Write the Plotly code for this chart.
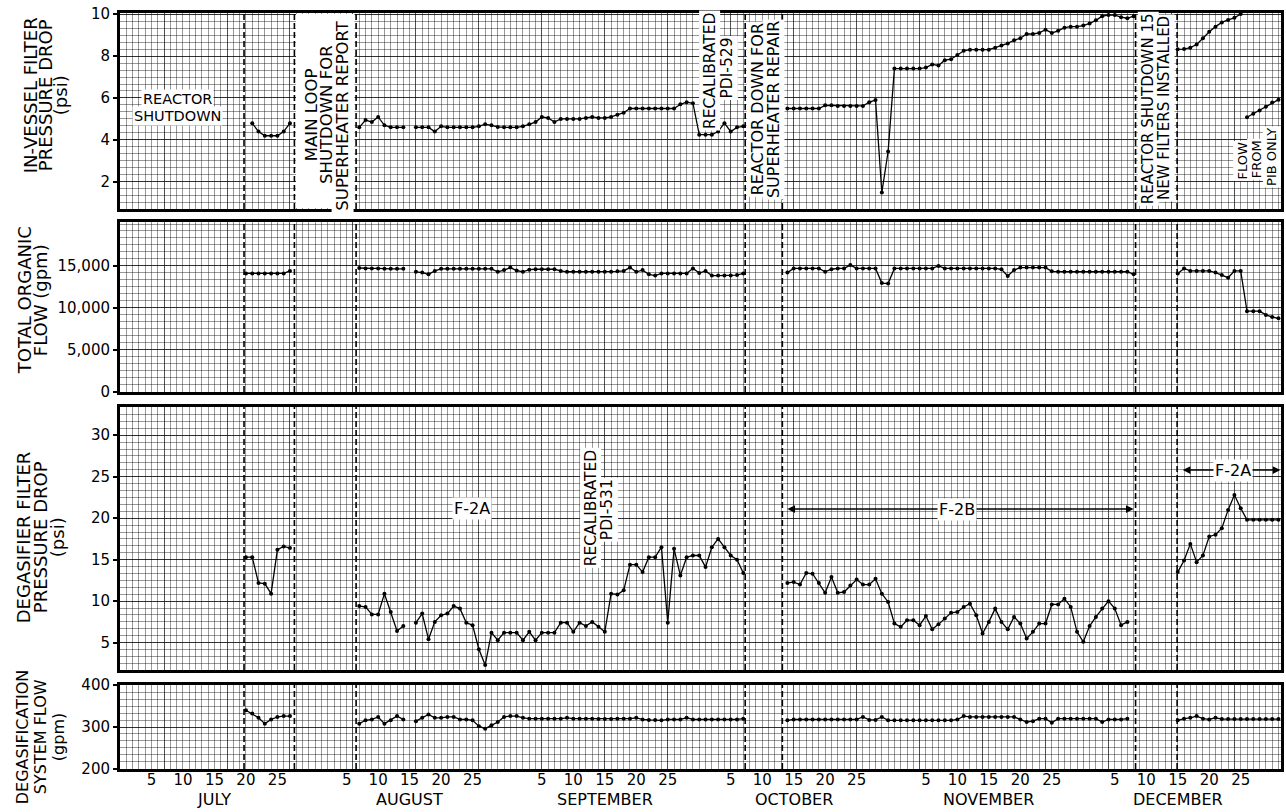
import plotly.graph_objects as go

FONT = "DejaVu Sans"

# ---------------- time axis: day number, 1 = July 1 ... 184 = December 31 ----------------
MONTHS = ["JULY", "AUGUST", "SEPTEMBER", "OCTOBER", "NOVEMBER", "DECEMBER"]
MONTH_OFFSETS = [0, 31, 62, 92, 123, 153]
DAY_TICKS = [5, 10, 15, 20, 25]
X_RANGE = [0, 184.4]

# dashed event lines (day numbers)
EVENT_DAYS = [19.7, 27.7, 37.5, 99.3, 105.2, 161.3, 167.9]

# ---------------- data: (first day, daily readings) segments ----------------
IVF_SEGMENTS = [  # in-vessel filter pressure drop (psi)
    (21, [4.8, 4.4, 4.2, 4.2, 4.2, 4.4, 4.8]),
    (38, [4.6, 4.95, 4.85, 5.1, 4.7, 4.6, 4.6, 4.6]),
    (47, [4.6, 4.6, 4.6, 4.4, 4.65, 4.6, 4.6, 4.6, 4.6, 4.6, 4.65, 4.75, 4.7, 4.62,
          4.6, 4.6, 4.6, 4.65, 4.75, 4.85, 5.1, 5.05, 4.85, 5.0, 5.0, 5.0, 5.0, 5.05,
          5.1, 5.05, 5.05, 5.1, 5.2, 5.3, 5.5, 5.5, 5.5, 5.5, 5.5, 5.5, 5.5, 5.5,
          5.7, 5.8, 5.75, 4.25, 4.25, 4.25, 4.4, 4.8, 4.4, 4.6, 4.65]),
    (106, [5.5, 5.5, 5.5, 5.5, 5.5, 5.5, 5.65, 5.65, 5.62, 5.62, 5.62, 5.62, 5.62,
           5.8, 5.9, 1.5, 3.45, 7.4, 7.4, 7.4, 7.4, 7.4, 7.45, 7.6, 7.55, 7.8, 7.85,
           8.05, 8.25, 8.3, 8.3, 8.3, 8.3, 8.4, 8.5, 8.6, 8.75, 8.85, 9.05, 9.05,
           9.1, 9.25, 9.1, 9.2, 9.35, 9.4, 9.4, 9.45, 9.55, 9.7, 9.9, 9.95, 9.95,
           9.85, 9.8, 9.9]),
    (168, [8.32, 8.33, 8.4, 8.55, 8.85, 9.16, 9.4, 9.6, 9.72, 9.82, 10.0]),
    (179, [5.08, 5.25, 5.4, 5.58, 5.78, 5.92]),
]

TOF_SEGMENTS = [  # total organic flow (gpm)
    (20, [14100, 14100, 14100, 14100, 14100, 14100, 14100, 14400]),
    (38, [14750, 14700, 14700, 14700, 14650, 14650, 14650, 14650]),
    (47, [14300, 14200, 14000, 14400, 14650, 14650, 14650, 14650, 14650, 14650,
          14650, 14650, 14650, 14300, 14500, 14800, 14450, 14300, 14550, 14600,
          14600, 14600, 14600, 14400, 14300, 14300, 14300, 14300, 14300, 14300,
          14300, 14300, 14350, 14400, 14800, 14300, 14500, 14000, 13850, 14100,
          14100, 14100, 14100, 14100, 14700, 14150, 14400, 13850, 13850, 13850,
          13850, 13900, 14100]),
    (106, [14200, 14700, 14700, 14700, 14700, 14700, 14300, 14600, 14700, 14700,
           15100, 14700, 14700, 14700, 14700, 12950, 12900, 14700, 14700, 14700,
           14700, 14700, 14700, 14700, 15000, 14700, 14700, 14700, 14700, 14700,
           14700, 14700, 14700, 14700, 14600, 13800, 14500, 14800, 14800, 14800,
           14800, 14800, 14350, 14300, 14300, 14300, 14300, 14300, 14300, 14300,
           14300, 14300, 14300, 14300, 14300, 14000]),
    (168, [14100, 14700, 14400, 14400, 14400, 14400, 14200, 13900, 13600, 14400,
           14400, 9600, 9600, 9600, 9150, 8900, 8750]),
]

DFP_SEGMENTS = [  # degasifier filter pressure drop (psi)
    (20, [15.3, 15.3, 12.2, 12.1, 10.9, 16.2, 16.6, 16.4]),
    (38, [9.4, 9.3, 8.4, 8.4, 10.9, 8.7, 6.4, 7.0]),
    (47, [7.4, 8.5, 5.4, 7.5, 8.3, 8.5, 9.4, 9.1, 7.4, 7.1, 4.2, 2.3, 6.2, 5.3,
          6.2, 6.2, 6.2, 5.3, 6.3, 5.3, 6.2, 6.2, 6.2, 7.4, 7.4, 6.3, 7.4, 7.0,
          7.5, 6.9, 6.3, 10.9, 10.8, 11.3, 14.4, 14.4, 13.5, 15.3, 15.3, 16.5,
          7.4, 16.3, 13.1, 15.3, 15.5, 15.5, 14.1, 16.5, 17.5, 16.5, 15.5, 15.0,
          13.4]),
    (106, [12.2, 12.3, 12.0, 13.4, 13.3, 12.2, 11.0, 12.9, 11.0, 11.1, 11.9, 12.6,
           12.0, 12.0, 12.7, 10.9, 9.9, 7.3, 6.9, 7.7, 7.7, 7.1, 8.2, 6.6, 7.2,
           7.9, 8.6, 8.7, 9.3, 9.7, 8.3, 6.1, 7.5, 9.1, 7.5, 6.6, 8.1, 7.3, 5.5,
           6.3, 7.3, 7.3, 9.6, 9.6, 10.3, 9.3, 6.3, 5.1, 7.0, 8.1, 9.1, 10.0, 9.1,
           7.1, 7.5]),
    (168, [13.5, 14.9, 16.9, 14.7, 15.5, 17.8, 18.0, 18.8, 21.0, 22.8, 21.2, 19.8,
           19.8, 19.8, 19.8, 19.8, 19.8]),
]

DSF_SEGMENTS = [  # degasification system flow (gpm)
    (20, [340, 332, 322, 308, 318, 324, 326, 326]),
    (38, [308, 316, 318, 324, 308, 316, 326, 318]),
    (47, [314, 322, 330, 322, 322, 324, 324, 318, 318, 316, 302, 296, 304, 312,
          324, 326, 326, 322, 320, 320, 320, 320, 320, 320, 322, 320, 320, 320,
          320, 319, 319, 319, 320, 320, 320, 322, 318, 317, 317, 316, 318, 318,
          318, 322, 318, 318, 318, 318, 318, 318, 318, 318, 320]),
    (106, [316, 318, 318, 318, 318, 318, 318, 318, 318, 318, 318, 318, 324, 317,
           317, 324, 316, 316, 316, 316, 316, 316, 316, 316, 316, 316, 316, 318,
           326, 324, 324, 324, 324, 324, 324, 324, 324, 318, 312, 314, 320, 320,
           310, 320, 320, 320, 320, 320, 320, 320, 312, 318, 318, 318, 320]),
    (168, [316, 320, 322, 326, 320, 318, 322, 319, 319, 319, 319, 319, 319, 319,
           319, 319, 319]),
]

# axis labels
IVF_TICKS = [2, 4, 6, 8, 10]
TOF_TICKS = [0, 5000, 10000, 15000]
TOF_TICKTEXT = ["0", "5,000", "10,000", "15,000"]
DFP_TICKS = [5, 10, 15, 20, 25, 30]
DSF_TICKS = [200, 300, 400]

# ---------------- layout geometry (pixels) ----------------
W, H = 1286, 812
ML, MR, MT, MB = 120, 2, 13, 43
PW, PH = W - ML - MR, H - MT - MB


def pxx(px):
    return (px - ML) / PW


def pxy(py):
    return (H - MB - py) / PH


def build(segments):
    xs, ys = [], []
    for start, vals in segments:
        if xs:
            xs.append(None)
            ys.append(None)
        xs.extend(range(start, start + len(vals)))
        ys.extend(vals)
    return xs, ys


MAJ = "rgba(0,0,0,0.68)"
MIN = "rgba(0,0,0,0.5)"

fig = go.Figure()
panels = [(IVF_SEGMENTS, "x", "y"), (TOF_SEGMENTS, "x2", "y2"),
          (DFP_SEGMENTS, "x3", "y3"), (DSF_SEGMENTS, "x4", "y4")]
for segs, xa, ya in panels:
    xs, ys = build(segs)
    fig.add_trace(go.Scatter(x=xs, y=ys, xaxis=xa, yaxis=ya, mode="lines+markers",
                             line=dict(color="black", width=1.3),
                             marker=dict(color="black", size=4),
                             connectgaps=False, hoverinfo="skip", showlegend=False))
# carrier trace for the date-label axis
fig.add_trace(go.Scatter(x=[1, 184], y=[300, 300], xaxis="x5", yaxis="y4", mode="markers",
                         marker=dict(size=1, opacity=0), hoverinfo="skip", showlegend=False))


def xax(anchor):
    return dict(range=X_RANGE, anchor=anchor, showticklabels=False, ticks="",
                tickmode="linear", tick0=7, dtick=10, showgrid=True, gridcolor=MAJ, gridwidth=1.0,
                minor=dict(tickmode="linear", tick0=0, dtick=1, showgrid=True,
                           gridcolor=MIN, gridwidth=0.8),
                showline=True, mirror=True, linecolor="black", linewidth=3, zeroline=False)


def yax(domain, rng, tickvals, ticktext, minor_dtick, anchor):
    return dict(domain=domain, range=rng, anchor=anchor, tickmode="array",
                tickvals=tickvals, ticktext=ticktext, ticks="outside", ticklen=4,
                tickwidth=2, tickcolor="black",
                tickfont=dict(size=15, family=FONT, color="black"),
                showgrid=True, gridcolor=MAJ, gridwidth=1.0,
                minor=dict(tickmode="linear", tick0=0, dtick=minor_dtick, showgrid=True,
                           gridcolor=MIN, gridwidth=0.8),
                showline=True, mirror=True, linecolor="black", linewidth=3, zeroline=False)


day_tickvals = [off + d for off in MONTH_OFFSETS for d in DAY_TICKS]
day_ticktext = [str(d) for off in MONTH_OFFSETS for d in DAY_TICKS]

fig.update_layout(
    width=W, height=H, margin=dict(l=ML, r=MR, t=MT, b=MB),
    paper_bgcolor="white", plot_bgcolor="white", showlegend=False,
    font=dict(family=FONT, color="black"),
    xaxis=xax("y"), xaxis2=xax("y2"), xaxis3=xax("y3"), xaxis4=xax("y4"),
    xaxis5=dict(overlaying="x4", anchor="y4", side="bottom", range=X_RANGE,
                tickmode="array", tickvals=day_tickvals, ticktext=day_ticktext,
                ticks="", showgrid=False, showline=False, zeroline=False,
                tickfont=dict(size=15, family=FONT, color="black")),
    yaxis=yax([pxy(209), pxy(13)], [0.71, 10.05], IVF_TICKS, [str(v) for v in IVF_TICKS], 1 / 3, "x"),
    yaxis2=yax([pxy(392), pxy(222)], [-50, 20240], TOF_TICKS, TOF_TICKTEXT, 5000 / 6, "x2"),
    yaxis3=yax([pxy(670), pxy(407)], [1.7, 33.4], DFP_TICKS, [str(v) for v in DFP_TICKS], 5 / 6, "x3"),
    yaxis4=yax([pxy(769), pxy(685)], [199.7, 400.3], DSF_TICKS, [str(v) for v in DSF_TICKS], 100 / 6, "x4"),
)

shapes = []
# blank area for the main-loop shutdown note
shapes.append(dict(type="rect", xref="x", yref="y domain", x0=27.95, x1=37.25, y0=0.005, y1=0.995,
                   fillcolor="white", line=dict(width=0), layer="above"))
for xa, ya in [("x", "y"), ("x2", "y2"), ("x3", "y3"), ("x4", "y4")]:
    for d in EVENT_DAYS:
        shapes.append(dict(type="line", xref=xa, yref=ya + " domain", x0=d, x1=d, y0=0, y1=1,
                           line=dict(color="black", width=1.6, dash="6px,3px"), layer="above"))
fig.update_layout(shapes=shapes)

ann = []

# axis titles, one annotation per line
TITLES = [
    (["IN-VESSEL FILTER", "PRESSURE DROP", "(psi)"], [30, 45, 60], 95, 18),
    (["TOTAL ORGANIC", "FLOW (gpm)"], [24, 40], 300, 18),
    (["DEGASIFIER FILTER", "PRESSURE DROP", "(psi)"], [23, 40, 57], 537, 18),
    (["DEGASIFICATION", "SYSTEM FLOW", "(gpm)"], [22, 40, 58], 737, 16),
]
for lines, xs_px, y_px, fs in TITLES:
    for text, x_px in zip(lines, xs_px):
        ann.append(dict(text=text, xref="paper", yref="paper", x=pxx(x_px), y=pxy(y_px),
                        textangle=-90, showarrow=False, xanchor="center", yanchor="middle",
                        font=dict(size=fs, family=FONT, color="black")))

# month names
for off, name in zip(MONTH_OFFSETS, MONTHS):
    ann.append(dict(text=name, xref="x4", yref="paper", x=off + 15, y=pxy(799),
                    showarrow=False, xanchor="center", yanchor="middle",
                    font=dict(size=16, family=FONT, color="black")))


def note(lines, days, vals, xa, ya, size=14, angle=-90):
    # white boxes first, then the lettering, so that neighbouring lines do not hide each other
    for text, d, v in zip(lines, days, vals):
        ann.append(dict(text=text, xref=xa, yref=ya, x=d, y=v, textangle=angle,
                        showarrow=False, xanchor="center", yanchor="middle",
                        bgcolor="white", borderpad=1,
                        font=dict(size=size, family=FONT, color="rgba(0,0,0,0)")))
    for text, d, v in zip(lines, days, vals):
        ann.append(dict(text=text, xref=xa, yref=ya, x=d, y=v, textangle=angle,
                        showarrow=False, xanchor="center", yanchor="middle",
                        font=dict(size=size, family=FONT, color="black")))


note(["REACTOR", "SHUTDOWN"], [9.15, 9.15], [5.95, 5.15], "x", "y", size=14.5, angle=0)
note(["MAIN LOOP", "SHUTDOWN FOR", "SUPERHEATER REPORT"], [30.4, 32.9, 35.4], [5.2, 5.2, 5.2], "x", "y", size=16.5)
note(["RECALIBRATED", "PDI-529"], [93.6, 96.4], [7.3, 7.45], "x", "y", size=15.5)
note(["REACTOR DOWN FOR", "SUPERHEATER REPAIR"], [101.3, 103.8], [5.45, 5.45], "x", "y", size=16)
note(["REACTOR SHUTDOWN 15", "NEW FILTERS INSTALLED"], [163.4, 165.9], [5.5, 5.5], "x", "y", size=15)
note(["FLOW", "FROM", "PIB ONLY"], [178.3, 180.5, 183.0], [3.0, 3.1, 3.2], "x", "y", size=13)

note(["F-2A"], [55.9], [21.2], "x3", "y3", size=16, angle=0)
note(["RECALIBRATED", "PDI-531"], [74.8, 77.4], [21.3, 21.0], "x3", "y3", size=15.5)

# range arrows for filters in service
for x_end, x_mid, yv in [(106.0, 132.9, 21.1), (161.0, 132.9, 21.1), (168.8, 176.8, 25.8), (184.3, 176.8, 25.8)]:
    ann.append(dict(x=x_end, y=yv, ax=x_mid, ay=yv, xref="x3", yref="y3", axref="x3", ayref="y3",
                    text="", showarrow=True, arrowhead=2, arrowsize=1.1, arrowwidth=1.4,
                    arrowcolor="black"))
note(["F-2B"], [132.9], [21.1], "x3", "y3", size=16, angle=0)
note(["F-2A"], [176.8], [25.8], "x3", "y3", size=16, angle=0)

fig.update_layout(annotations=ann)
fig.write_html("out.html", post_script="document.body.style.margin='0';",
               config={"displayModeBar": False, "staticPlot": True})
